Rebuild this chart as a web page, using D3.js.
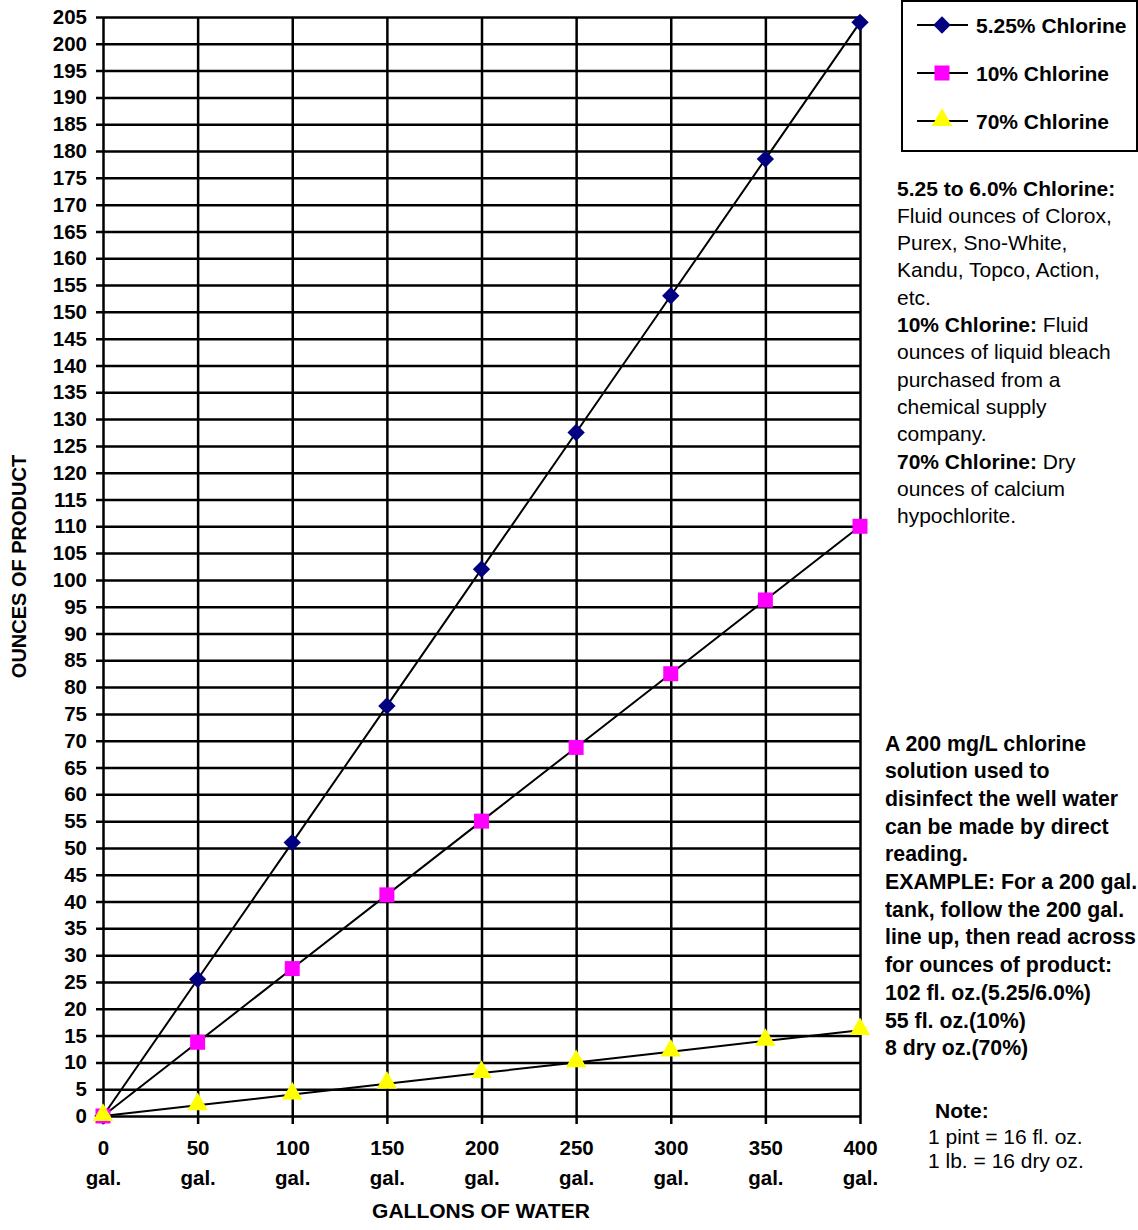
<!DOCTYPE html>
<html>
<head>
<meta charset="utf-8">
<script src="https://cdn.jsdelivr.net/npm/d3@7"></script>
<style>
  html, body { margin: 0; padding: 0; background: #fff; }
  svg { display: block; font-family: "Liberation Sans", Arial, Helvetica, sans-serif; }
</style>
</head>
<body>
<svg id="chart" width="1138" height="1230"></svg>
<script>
// ---- data ----
const gallons = [0, 50, 100, 150, 200, 250, 300, 350, 400];
const chlorine525 = [0, 25.5, 51, 76.5, 102, 127.5, 153, 178.5, 204];
const chlorine10 = [0, 13.75, 27.5, 41.25, 55, 68.75, 82.5, 96.25, 110];
const chlorine70 = [0, 2, 4, 6, 8, 10, 12, 14, 16];
const seriesNames = ["5.25% Chlorine", "10% Chlorine", "70% Chlorine"];
const yTicks = d3.range(0, 206, 5);
const xTickUnit = "gal.";
const xTitle = "GALLONS OF WATER";
const yTitle = "OUNCES OF PRODUCT";
const note1 = [
  [["5.25 to 6.0% Chlorine:", true]],
  [["Fluid ounces of Clorox,", false]],
  [["Purex, Sno-White,", false]],
  [["Kandu, Topco, Action,", false]],
  [["etc.", false]],
  [["10% Chlorine:", true], [" Fluid", false]],
  [["ounces of liquid bleach", false]],
  [["purchased from a", false]],
  [["chemical supply", false]],
  [["company.", false]],
  [["70% Chlorine:", true], [" Dry", false]],
  [["ounces of calcium", false]],
  [["hypochlorite.", false]]
];
const note2 = [
  "A 200 mg/L chlorine",
  "solution used to",
  "disinfect the well water",
  "can be made by direct",
  "reading.",
  "EXAMPLE: For a 200 gal.",
  "tank, follow the 200 gal.",
  "line up, then read across",
  "for ounces of product:",
  "102 fl. oz.(5.25/6.0%)",
  "55 fl. oz.(10%)",
  "8 dry oz.(70%)"
];
const note3Title = "Note:";
const note3 = ["1 pint = 16 fl. oz.", "1 lb. = 16 dry oz."];

// ---- layout ----
const svg = d3.select("#chart");
const pLeft = 103, pRight = 860, pTop = 17, pBottom = 1116;

const x = d3.scaleLinear().domain([0, 400]).range([pLeft, pRight]);
const y = d3.scaleLinear().domain([0, 205]).range([pBottom, pTop]);

const series = [
  { name: seriesNames[0], values: chlorine525, color: "#000080", shape: "diamond" },
  { name: seriesNames[1], values: chlorine10, color: "#FF00FF", shape: "square" },
  { name: seriesNames[2], values: chlorine70, color: "#FFFF00", shape: "triangle" }
];

// horizontal grid + y labels
const yAxis = d3.axisLeft(y).tickValues(yTicks).tickSize(-(pRight - pLeft + 7)).tickPadding(9);
const gy = svg.append("g").attr("transform", `translate(${pLeft - 7},0)`).call(yAxis);
gy.select(".domain").remove();
gy.selectAll(".tick line").attr("stroke", "#000").attr("stroke-width", 2.5);
gy.selectAll(".tick text").attr("font-size", 20.5).attr("font-weight", "bold").attr("fill", "#000")
  .attr("font-family", "Liberation Sans, Arial, sans-serif");

// vertical grid + x labels
const xAxis = d3.axisBottom(x).tickValues(gallons).tickSize(-(pBottom - pTop + 8)).tickFormat(() => "");
const gx = svg.append("g").attr("transform", `translate(0,${pBottom + 8})`).call(xAxis);
gx.select(".domain").remove();
gx.selectAll(".tick line").attr("stroke", "#000").attr("stroke-width", 2.5);
gx.selectAll(".tick text").remove();
gx.selectAll(".tick").append("text")
  .attr("text-anchor", "middle").attr("font-size", 20.5).attr("font-weight", "bold").attr("fill", "#000")
  .attr("font-family", "Liberation Sans, Arial, sans-serif")
  .each(function(d) {
    const t = d3.select(this);
    t.append("tspan").attr("x", 0).attr("y", 31).text(d);
    t.append("tspan").attr("x", 0).attr("y", 61).text(xTickUnit);
  });

// axis titles
svg.append("text").attr("x", 481).attr("y", 1218).attr("text-anchor", "middle")
  .attr("font-size", 21).attr("font-weight", "bold").text(xTitle);
svg.append("text").attr("transform", `translate(26,${(pTop + pBottom) / 2}) rotate(-90)`)
  .attr("text-anchor", "middle").attr("font-size", 20).attr("font-weight", "bold").text(yTitle);

// lines
const line = d3.line().x((d, i) => x(gallons[i])).y(d => y(d));
series.forEach(s => {
  svg.append("path").datum(s.values).attr("d", line)
    .attr("fill", "none").attr("stroke", "#000").attr("stroke-width", 2);
});

// markers
const symbolFor = {
  diamond: d3.symbol().type(d3.symbolSquare).size(150),
  square: d3.symbol().type(d3.symbolSquare).size(225),
  triangle: d3.symbol().type(d3.symbolTriangle).size(180)
};
function drawMarker(g, s, cx, cy) {
  const p = g.append("path").attr("d", symbolFor[s.shape]()).attr("fill", s.color);
  if (s.shape === "diamond") p.attr("transform", `translate(${cx},${cy}) rotate(45)`);
  else if (s.shape === "triangle") p.attr("transform", `translate(${cx},${cy - 1})`);
  else p.attr("transform", `translate(${cx},${cy})`);
}
series.forEach(s => {
  const g = svg.append("g");
  s.values.forEach((v, i) => drawMarker(g, s, x(gallons[i]), y(v)));
});

// legend
const lg = svg.append("g");
lg.append("rect").attr("x", 902).attr("y", 1).attr("width", 235).attr("height", 150)
  .attr("fill", "#fff").attr("stroke", "#000").attr("stroke-width", 2);
series.forEach((s, i) => {
  const ly = 25 + i * 48;
  lg.append("line").attr("x1", 917).attr("x2", 968).attr("y1", ly).attr("y2", ly)
    .attr("stroke", "#000").attr("stroke-width", 2);
  drawMarker(lg, s, 942, ly);
  lg.append("text").attr("x", 976).attr("y", ly + 7.5).attr("font-size", 21).attr("font-weight", "bold").text(s.name);
});

// notes
const n1 = svg.append("text").attr("font-size", 21).attr("fill", "#000");
note1.forEach((parts, i) => {
  parts.forEach((p, j) => {
    const ts = n1.append("tspan").attr("font-weight", p[1] ? "bold" : "normal").text(p[0]);
    if (j === 0) ts.attr("x", 897).attr("y", 195.5 + i * 27.3);
  });
});
const n2 = svg.append("text").attr("font-size", 21.3).attr("font-weight", "bold").attr("fill", "#000");
note2.forEach((l, i) => n2.append("tspan").attr("x", 885).attr("y", 750.5 + i * 27.7).text(l));
svg.append("text").attr("x", 935).attr("y", 1117.5).attr("font-size", 21).attr("font-weight", "bold").text(note3Title);
note3.forEach((l, i) => svg.append("text").attr("x", 928).attr("y", 1144 + i * 24).attr("font-size", 21).text(l));
</script>
</body>
</html>
